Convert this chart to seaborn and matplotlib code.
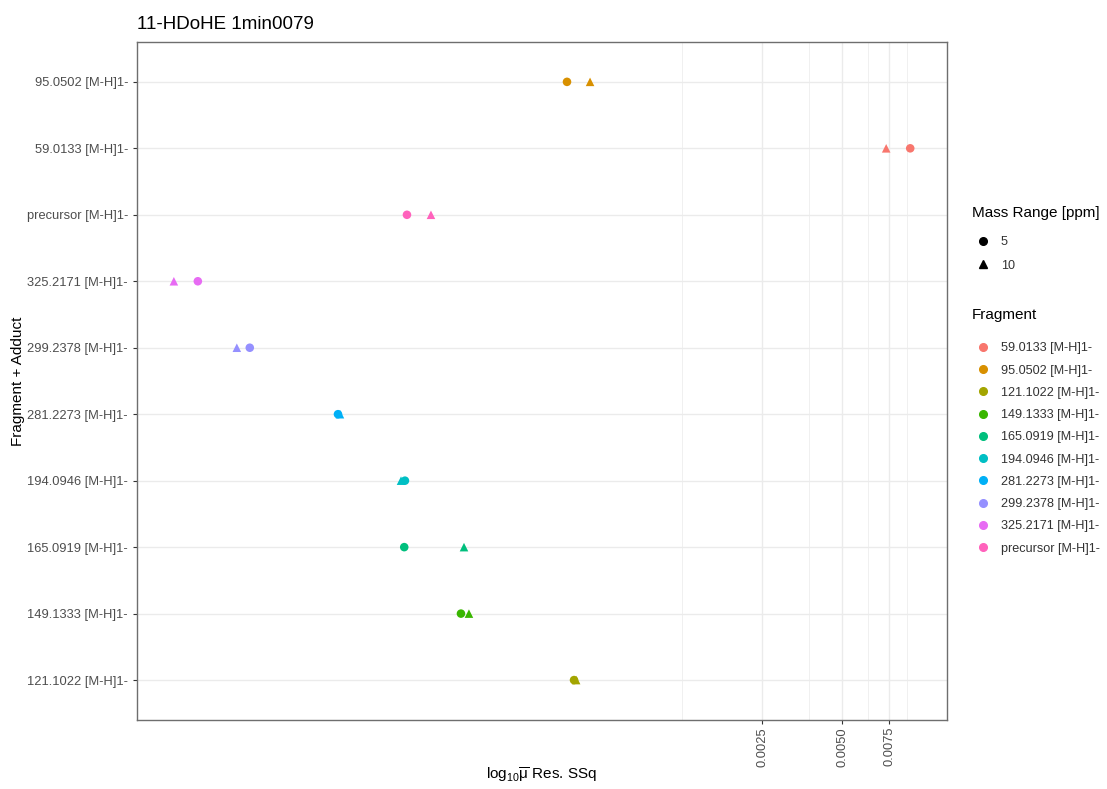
import numpy as np
import pandas as pd
import matplotlib
matplotlib.use("Agg")
import matplotlib.pyplot as plt
from matplotlib.lines import Line2D
import seaborn as sns

# ---------------- data ----------------
# y-axis levels, bottom to top
fragments = ["121.1022 [M-H]1-", "149.1333 [M-H]1-", "165.0919 [M-H]1-",
             "194.0946 [M-H]1-", "281.2273 [M-H]1-", "299.2378 [M-H]1-",
             "325.2171 [M-H]1-", "precursor [M-H]1-", "59.0133 [M-H]1-",
             "95.0502 [M-H]1-"]
ssq_5ppm = [4.91e-4, 1.846e-4, 1.13e-4, 1.137e-4, 6.37e-5, 2.97e-5,
            1.895e-5, 1.157e-4, 9.0e-3, 4.62e-4]
ssq_10ppm = [5.0e-4, 1.978e-4, 1.895e-4, 1.099e-4, 6.48e-5, 2.655e-5,
             1.54e-5, 1.424e-4, 7.31e-3, 5.64e-4]
mass_ranges = ["5", "10"]

legend_order = ["59.0133 [M-H]1-", "95.0502 [M-H]1-", "121.1022 [M-H]1-",
                "149.1333 [M-H]1-", "165.0919 [M-H]1-", "194.0946 [M-H]1-",
                "281.2273 [M-H]1-", "299.2378 [M-H]1-", "325.2171 [M-H]1-",
                "precursor [M-H]1-"]
legend_colors = ["#F8766D", "#D89000", "#A3A500", "#39B600", "#00BF7D",
                 "#00BFC4", "#00B0F6", "#9590FF", "#E76BF3", "#FF62BC"]

x_breaks = [0.0025, 0.005, 0.0075]
x_break_labels = ["0.0025", "0.0050", "0.0075"]
x_minor = [0.00125, 0.00375, 0.00625, 0.00875]

title = "11-HDoHE 1min0079"

# ---------------- frame ----------------
df = pd.DataFrame({
    "fragment": fragments * 2,
    "ssq": ssq_5ppm + ssq_10ppm,
    "mass": [mass_ranges[0]] * len(fragments) + [mass_ranges[1]] * len(fragments),
})
df["fragment"] = pd.Categorical(df["fragment"], categories=fragments)

sns.set_theme(style="white")
plt.rcParams["font.family"] = ["Liberation Sans", "DejaVu Sans"]
plt.rcParams["mathtext.default"] = "regular"

fig = plt.figure(figsize=(11.07, 7.89), dpi=100)
ax = fig.add_axes([0.1238, 0.0875, 0.8555 - 0.1238, 0.9468 - 0.0875])

palette = dict(zip(legend_order, legend_colors))
sns.scatterplot(data=df, x="ssq", y="fragment", hue="fragment",
                hue_order=legend_order, palette=palette,
                style="mass", markers={"5": "o", "10": "^"},
                s=38, linewidth=0, legend=False, ax=ax, zorder=3)

ax.set_xscale("log")
# ggplot-like 5% expansion in log space
lx = np.log10(np.array(ssq_5ppm + ssq_10ppm))
lo, hi = lx.min(), lx.max()
pad = (hi - lo) * 0.05
ax.set_xlim(10 ** (lo - pad), 10 ** (hi + pad))
ax.set_ylim(-0.6, len(fragments) - 1 + 0.6)

ax.xaxis.set_major_locator(matplotlib.ticker.FixedLocator(x_breaks))
ax.xaxis.set_major_formatter(matplotlib.ticker.FixedFormatter(x_break_labels))
ax.xaxis.set_minor_locator(matplotlib.ticker.FixedLocator(x_minor))
ax.xaxis.set_minor_formatter(matplotlib.ticker.NullFormatter())

ax.set_facecolor("white")
ax.grid(True, which="major", axis="both", color="#EBEBEB", linewidth=1.0, zorder=0)
ax.grid(True, which="minor", axis="x", color="#F0F0F0", linewidth=0.7, zorder=0)
ax.set_axisbelow(True)
for sp in ax.spines.values():
    sp.set_color("#6E6E6E")
    sp.set_linewidth(1.0)

ax.tick_params(axis="both", which="major", length=3, width=0.8, color="#333333",
               labelsize=9.3, labelcolor="#4D4D4D", bottom=True, left=True)
ax.tick_params(axis="x", which="minor", length=0)
ax.tick_params(axis="x", which="major", labelrotation=90, pad=2)

ax.set_xlabel("log$_{10}\\overline{μ}$ Res. SSq", fontsize=11, color="black", va="center")
ax.xaxis.set_label_coords(0.5, -(775 - 720) / 678)
ax.set_ylabel("Fragment + Adduct", fontsize=11, color="black", va="center")
ax.yaxis.set_label_coords(-(137 - 18) / 810, 0.5)
ax.set_title(title, loc="left", fontsize=13.5, color="black", pad=9)

# ---------------- legends ----------------
lx0 = 972 / 1107
fig.text(lx0, 1 - 213 / 789, "Mass Range [ppm]", fontsize=11, color="black",
         ha="left", va="center")
fig.text(lx0, 1 - 315 / 789, "Fragment", fontsize=11, color="black",
         ha="left", va="center")

shape_handles = [Line2D([], [], marker=m, color="black", linestyle="none", markersize=5.5)
                 for m in ["o", "^"]]
leg1 = fig.legend(shape_handles, mass_ranges,
                  loc="upper left", bbox_to_anchor=(0.8717, 1 - 225 / 789), frameon=False,
                  fontsize=9.1, handlelength=1.0,
                  handletextpad=0.95, labelspacing=0.9)
color_handles = [Line2D([], [], marker="o", color=c, linestyle="none", markersize=5.5)
                 for c in legend_colors]
leg2 = fig.legend(color_handles, legend_order,
                  loc="upper left", bbox_to_anchor=(0.8717, 1 - 331 / 789), frameon=False,
                  fontsize=9.1, handlelength=1.0,
                  handletextpad=0.95, labelspacing=0.81)
for lg in (leg1, leg2):
    for t in lg.get_texts():
        t.set_color("#333333")

fig.savefig("out.png", dpi=100)
